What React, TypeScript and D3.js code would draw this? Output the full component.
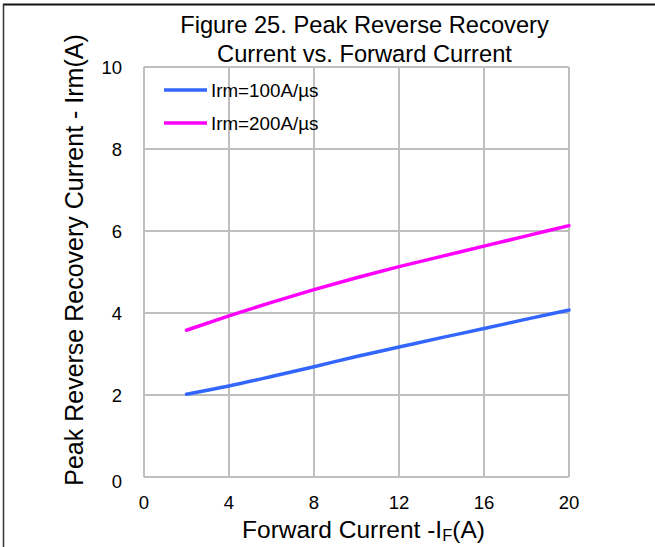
import React from "react";
import * as d3 from "d3";

// Forward current (A) sample points
const forwardCurrent = [2, 4, 6, 8, 10, 12, 14, 16, 18, 20];
// Peak reverse recovery current (A) for each di/dt setting
const irm100 = [2.02, 2.22, 2.45, 2.69, 2.94, 3.17, 3.4, 3.62, 3.85, 4.07];
const irm200 = [3.58, 3.93, 4.26, 4.57, 4.86, 5.13, 5.38, 5.63, 5.88, 6.13];

const seriesNames = ["Irm=100A/µs", "Irm=200A/µs"];
const seriesColors = ["#3366ff", "#ff00ff"];

const xTicks = [0, 4, 8, 12, 16, 20];
const yTicks = [0, 2, 4, 6, 8, 10];

const W = 655;
const H = 547;
const FONT = "'Liberation Sans', Arial, sans-serif";

export default function App() {
  const x = d3.scaleLinear().domain([0, 20]).range([144, 569]);
  const y = d3.scaleLinear().domain([0, 10]).range([477, 67]);

  const line = d3
    .line<[number, number]>()
    .x((d) => x(d[0]))
    .y((d) => y(d[1]))
    .curve(d3.curveMonotoneX);

  const series = [irm100, irm200].map((vals) =>
    forwardCurrent.map((f, i) => [f, vals[i]] as [number, number])
  );

  return (
    <svg
      width={W}
      height={H}
      style={{ position: "absolute", left: 0, top: 0, background: "#fff" }}
      fontFamily={FONT}
    >
      <rect x={0} y={0} width={W} height={H} fill="#fff" />
      {/* frame edges */}
      <line x1={3} x2={W} y1={4.5} y2={4.5} stroke="#111" strokeWidth={2} />
      <line x1={3.5} x2={3.5} y1={4} y2={H} stroke="#333" strokeWidth={1.5} />

      {/* title */}
      <text x={364.5} y={33} textAnchor="middle" fontSize={23.7} fill="#000">
        Figure 25. Peak Reverse Recovery
      </text>
      <text x={364.5} y={62} textAnchor="middle" fontSize={23.7} fill="#000">
        Current vs. Forward Current
      </text>

      {/* grid */}
      {xTicks.map((t) => (
        <line
          key={"gx" + t}
          x1={x(t)}
          x2={x(t)}
          y1={y(10)}
          y2={y(0)}
          stroke="#bfbfbf"
          strokeWidth={2}
        />
      ))}
      {yTicks.map((t) => (
        <line
          key={"gy" + t}
          x1={x(0)}
          x2={x(20)}
          y1={y(t)}
          y2={y(t)}
          stroke="#bfbfbf"
          strokeWidth={2}
        />
      ))}

      {/* tick labels */}
      {xTicks.map((t) => (
        <text
          key={"tx" + t}
          x={x(t)}
          y={509}
          textAnchor="middle"
          fontSize={18.5}
          fill="#000"
        >
          {t}
        </text>
      ))}
      {yTicks.map((t) => (
        <text
          key={"ty" + t}
          x={122}
          y={y(t) + 6.5 + (t === 0 ? 4 : 0)}
          textAnchor="end"
          fontSize={18.5}
          fill="#000"
        >
          {t}
        </text>
      ))}

      {/* axis titles */}
      <text x={363.5} y={538} textAnchor="middle" fontSize={24.5} fill="#000">
        Forward Current -I
        <tspan fontSize={16.5} dy={3}>F</tspan>
        <tspan dy={-3}>(A)</tspan>
      </text>
      <text
        transform={`translate(83, 260) rotate(-90)`}
        textAnchor="middle"
        fontSize={25}
        fill="#000"
      >
        Peak Reverse Recovery Current - Irm(A)
      </text>

      {/* curves */}
      {series.map((pts, i) => (
        <path
          key={"s" + i}
          d={line(pts) || ""}
          fill="none"
          stroke={seriesColors[i]}
          strokeWidth={3.5}
          strokeLinecap="round"
        />
      ))}

      {/* legend */}
      {seriesNames.map((name, i) => (
        <g key={"lg" + i} transform={`translate(0, ${90 + i * 33})`}>
          <line
            x1={164}
            x2={207}
            y1={0}
            y2={0}
            stroke={seriesColors[i]}
            strokeWidth={3.5}
          />
          <text x={211} y={7} fontSize={18.8} fill="#000">
            {name}
          </text>
        </g>
      ))}
    </svg>
  );
}
